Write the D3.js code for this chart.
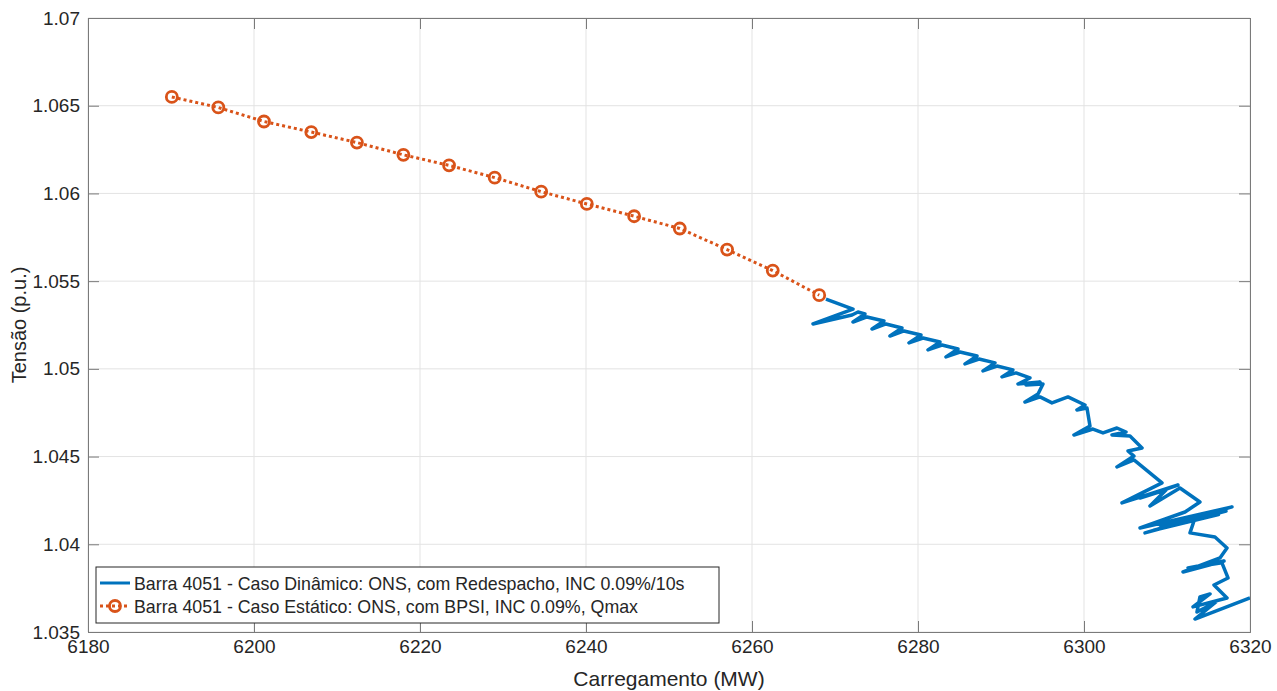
<!DOCTYPE html>
<html>
<head>
<meta charset="utf-8">
<script src="https://cdn.jsdelivr.net/npm/d3@7"></script>
<style>
  html, body { margin: 0; padding: 0; background: #fff; }
  svg text { font-family: "Liberation Sans", Arial, sans-serif; fill: #262626; }
</style>
</head>
<body>
<div id="chart"></div>
<script>
// dados
const xTicks = [6180, 6200, 6220, 6240, 6260, 6280, 6300, 6320];
const yTicks = [1.035, 1.04, 1.045, 1.05, 1.055, 1.06, 1.065, 1.07];
const yTickLabels = ["1.035", "1.04", "1.045", "1.05", "1.055", "1.06", "1.065", "1.07"];

// caso estático (laranja, pontilhado com círculos)
const estaticoMW = [6190.1, 6195.7, 6201.2, 6206.9, 6212.4, 6218.0, 6223.5, 6229.0,
  6234.6, 6240.1, 6245.8, 6251.3, 6257.0, 6262.5, 6268.1];
const estaticoTensao = [1.0655, 1.0649, 1.0641, 1.0635, 1.0629, 1.0622, 1.0616, 1.0609,
  1.0601, 1.0594, 1.0587, 1.0580, 1.0568, 1.0556, 1.0542];

// caso dinâmico (azul)
const dinamicoMW = [6268.91, 6272.17, 6267.35, 6272.05, 6272.77,
  6273.61, 6272.17, 6273.85, 6275.90, 6274.46, 6276.14, 6278.07, 6276.62, 6278.31,
  6280.36, 6278.91, 6280.60, 6282.65, 6281.20, 6282.89, 6284.82, 6283.37, 6285.06,
  6287.11, 6285.66, 6287.35, 6289.28, 6287.83, 6289.52,
  6291.44, 6290.12, 6291.81, 6293.49, 6292.05, 6294.70, 6293.01, 6295.06, 6294.46,
  6292.89, 6294.70, 6296.14, 6298.07, 6300.12, 6299.15, 6300.36, 6300.72, 6298.79,
  6301.08, 6302.29, 6303.97, 6305.06, 6303.37, 6305.54, 6306.99, 6305.30, 6306.02,
  6303.97, 6306.02, 6309.40, 6304.58, 6311.32, 6306.75, 6309.88, 6307.95, 6311.56,
  6313.97, 6312.17, 6306.75, 6317.83, 6307.35, 6317.11, 6308.40, 6316.20, 6309.15,
  6313.37, 6312.77,
  6315.78, 6317.23, 6316.38, 6311.93, 6316.87, 6312.53, 6316.62, 6317.35, 6315.66,
  6317.23, 6313.13, 6315.18, 6313.97, 6313.61, 6315.90, 6313.37, 6320.00];
const dinamicoTensao = [1.05398, 1.05341, 1.05256, 1.05307, 1.05324,
  1.05313, 1.05267, 1.05296, 1.05273, 1.05227, 1.05256, 1.05233, 1.05187, 1.05216,
  1.05193, 1.05148, 1.05176, 1.05153, 1.05108, 1.05136, 1.05113, 1.05068, 1.05096,
  1.05073, 1.05028, 1.05056, 1.05034, 1.04988, 1.05016,
  1.04994, 1.04954, 1.04977, 1.04948, 1.04914, 1.04925, 1.04908, 1.04914, 1.04857,
  1.04811, 1.04840, 1.04806, 1.04840, 1.04794, 1.04766, 1.04777, 1.04674, 1.04623,
  1.04657, 1.04635, 1.04663, 1.04640, 1.04623, 1.04617, 1.04549, 1.04532, 1.04503,
  1.04441, 1.04481, 1.04350, 1.04236, 1.04338, 1.04264, 1.04310, 1.04218, 1.04321,
  1.04241, 1.04184, 1.04093, 1.04213, 1.04065, 1.04190, 1.04080, 1.04170, 1.04110,
  1.04150, 1.04065,
  1.04042, 1.03979, 1.03922, 1.03842, 1.03905, 1.03865, 1.03894, 1.03808, 1.03768,
  1.03694, 1.03643, 1.03717, 1.03700, 1.03614, 1.03671, 1.03574, 1.03694];

const legendLabels = [
  "Barra 4051 - Caso Dinâmico: ONS, com Redespacho, INC 0.09%/10s",
  "Barra 4051 - Caso Estático: ONS, com BPSI, INC 0.09%, Qmax"
];

const azul = "#0072BD";
const laranja = "#D95319";

const W = 1277, H = 691;
const margin = { top: 18, right: 27, bottom: 59, left: 88 };
const iw = W - margin.left - margin.right;
const ih = H - margin.top - margin.bottom;

const svg = d3.select("#chart").append("svg")
  .attr("width", W).attr("height", H);

const g = svg.append("g").attr("transform", `translate(${margin.left},${margin.top})`);

const x = d3.scaleLinear().domain([6180, 6320]).range([0, iw]);
const y = d3.scaleLinear().domain([1.035, 1.07]).range([ih, 0]);

// grade
g.append("g").selectAll("line").data(xTicks).enter().append("line")
  .attr("x1", d => x(d)).attr("x2", d => x(d)).attr("y1", 0).attr("y2", ih)
  .attr("stroke", "#e3e3e3").attr("stroke-width", 1);
g.append("g").selectAll("line").data(yTicks).enter().append("line")
  .attr("y1", d => y(d)).attr("y2", d => y(d)).attr("x1", 0).attr("x2", iw)
  .attr("stroke", "#e3e3e3").attr("stroke-width", 1);

// eixos (ticks para dentro, caixa completa)
const tickLen = 11;
const axisColor = "#7a7a7a";
const xAxisB = d3.axisBottom(x).tickValues(xTicks).tickSize(-tickLen).tickPadding(8).tickFormat(d3.format("d"));
const xAxisT = d3.axisTop(x).tickValues(xTicks).tickSize(-tickLen).tickFormat("");
const yAxisL = d3.axisLeft(y).tickValues(yTicks).tickSize(-tickLen).tickPadding(8)
  .tickFormat((d, i) => yTickLabels[i]);
const yAxisR = d3.axisRight(y).tickValues(yTicks).tickSize(-tickLen).tickFormat("");

function styleAxis(sel) {
  sel.select(".domain").attr("stroke", axisColor);
  sel.selectAll(".tick line").attr("stroke", axisColor);
  sel.selectAll(".tick text").attr("font-size", 19).attr("fill", "#262626")
    .style("font-family", "'Liberation Sans', Arial, sans-serif");
}
g.append("g").attr("transform", `translate(0,${ih})`).call(xAxisB).call(styleAxis);
g.append("g").call(xAxisT).call(styleAxis);
g.append("g").call(yAxisL).call(styleAxis);
g.append("g").attr("transform", `translate(${iw},0)`).call(yAxisR).call(styleAxis);

// recorte
svg.append("defs").append("clipPath").attr("id", "clip")
  .append("rect").attr("width", iw).attr("height", ih);

const plot = g.append("g").attr("clip-path", "url(#clip)");

const dinamico = dinamicoMW.map((v, i) => [v, dinamicoTensao[i]]);
const estatico = estaticoMW.map((v, i) => [v, estaticoTensao[i]]);
const line = d3.line().x(d => x(d[0])).y(d => y(d[1]));

plot.append("path").datum(dinamico)
  .attr("d", line).attr("fill", "none")
  .attr("stroke", azul).attr("stroke-width", 3.5)
  .attr("stroke-linejoin", "round");

plot.append("path").datum(estatico)
  .attr("d", line).attr("fill", "none")
  .attr("stroke", laranja).attr("stroke-width", 3)
  .attr("stroke-dasharray", "3,3");

plot.selectAll(".marker").data(estatico).enter().append("circle")
  .attr("class", "marker")
  .attr("cx", d => x(d[0])).attr("cy", d => y(d[1]))
  .attr("r", 5.5).attr("fill", "none")
  .attr("stroke", laranja).attr("stroke-width", 2.8);

// rótulos dos eixos
svg.append("text")
  .attr("x", margin.left + iw / 2).attr("y", 686)
  .attr("text-anchor", "middle").attr("font-size", 21)
  .text("Carregamento (MW)");
svg.append("text")
  .attr("transform", `translate(26,${margin.top + ih / 2}) rotate(-90)`)
  .attr("text-anchor", "middle").attr("font-size", 20)
  .text("Tensão (p.u.)");

// legenda
const leg = svg.append("g").attr("transform", "translate(96,567)");
leg.append("rect").attr("width", 623).attr("height", 56)
  .attr("fill", "#fff").attr("stroke", "#262626").attr("stroke-width", 1);
const rows = leg.selectAll(".row").data(legendLabels).enter().append("g")
  .attr("transform", (d, i) => `translate(0,${16 + i * 23})`);
rows.append("line").attr("x1", 4).attr("x2", 34).attr("y1", 0).attr("y2", 0)
  .attr("stroke", (d, i) => i === 0 ? azul : laranja)
  .attr("stroke-width", 3)
  .attr("stroke-dasharray", (d, i) => i === 0 ? null : "3,3");
rows.filter((d, i) => i === 1).append("circle")
  .attr("cx", 19).attr("cy", 0).attr("r", 5.5)
  .attr("fill", "none").attr("stroke", laranja).attr("stroke-width", 2.8);
rows.append("text").attr("x", 38).attr("y", 6.5).attr("font-size", 17.8)
  .text(d => d);
</script>
</body>
</html>
